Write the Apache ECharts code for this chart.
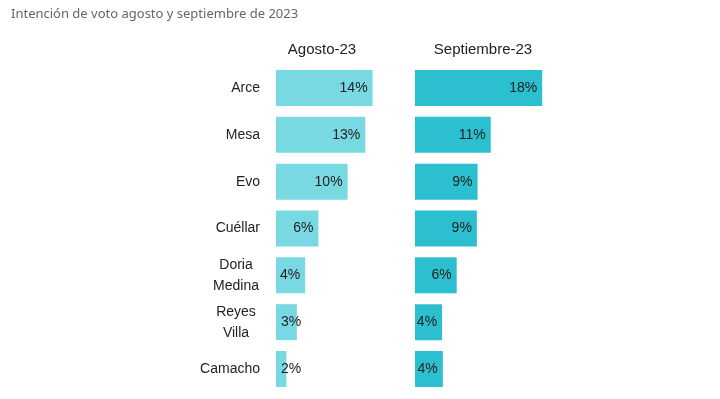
<!DOCTYPE html>
<html>
<head>
<meta charset="utf-8">
<script src="https://cdn.jsdelivr.net/npm/echarts@6/dist/echarts.min.js"></script>
<style>
  html, body { margin: 0; padding: 0; background: #fff; }
  #chart { width: 720px; height: 399px; }
</style>
</head>
<body>
<div id="chart"></div>
<script>
const candidates = ['Arce', 'Mesa', 'Evo', 'Cuéllar', 'Doria\nMedina', 'Reyes\nVilla', 'Camacho'];
const agosto = [13.9, 12.85, 10.3, 6.1, 4.2, 3.0, 1.5];
const septiembre = [18.3, 10.9, 9.0, 8.9, 6.0, 3.9, 4.0];
const panelTitles = ['Agosto-23', 'Septiembre-23'];

const font = '"Liberation Sans", Arial, sans-serif';

// short bars get the label from the left, like the original
function withLabels(values) {
  return values.map(v => ({
    value: v,
    label: { position: v < 3.5 ? 'insideLeft' : 'insideRight' }
  }));
}

const yAxisBase = {
  type: 'category',
  data: candidates,
  inverse: true,
  axisLine: { show: false },
  axisTick: { show: false },
  splitLine: { show: false }
};

const chart = echarts.init(document.getElementById('chart'));
chart.setOption({
  animation: false,
  backgroundColor: '#fff',
  title: {
    text: 'Intención de voto agosto y septiembre de 2023',
    left: 6,
    top: 3,
    textStyle: { fontFamily: '"Noto Sans", sans-serif', fontSize: 13, fontWeight: 'normal', color: '#666' }
  },
  graphic: [
    { type: 'text', x: 322, y: 50, style: { text: panelTitles[0], font: '15px ' + font, fill: '#222', textAlign: 'center', textVerticalAlign: 'middle' } },
    { type: 'text', x: 483, y: 50, style: { text: panelTitles[1], font: '15px ' + font, fill: '#222', textAlign: 'center', textVerticalAlign: 'middle' } }
  ],
  grid: [
    { left: 276, top: 64.6, width: 139, height: 327.8 },
    { left: 415, top: 64.6, width: 139, height: 327.8 }
  ],
  xAxis: [
    { gridIndex: 0, type: 'value', min: 0, max: 20, show: false },
    { gridIndex: 1, type: 'value', min: 0, max: 20, show: false }
  ],
  yAxis: [
    Object.assign({}, yAxisBase, {
      gridIndex: 0,
      axisLabel: {
        margin: 16,
        color: '#222',
        fontFamily: font,
        fontSize: 14,
        lineHeight: 21,
        formatter: v => v.indexOf('\n') >= 0 ? v.split('\n').map(l => '{c|' + l + '}').join('\n') : v,
        rich: { c: { width: 48, align: 'center', color: '#222', fontFamily: font, fontSize: 14, lineHeight: 21 } }
      }
    }),
    Object.assign({}, yAxisBase, { gridIndex: 1, axisLabel: { show: false } })
  ],
  series: [
    {
      type: 'bar',
      xAxisIndex: 0,
      yAxisIndex: 0,
      barWidth: 36,
      data: withLabels(agosto),
      itemStyle: { color: '#79d9e3' },
      label: {
        show: true,
        distance: 5,
        color: '#222',
        fontFamily: font,
        fontSize: 14,
        formatter: p => Math.round(p.value) + '%'
      }
    },
    {
      type: 'bar',
      xAxisIndex: 1,
      yAxisIndex: 1,
      barWidth: 36,
      data: withLabels(septiembre),
      itemStyle: { color: '#2bbfcf' },
      label: {
        show: true,
        distance: 5,
        color: '#222',
        fontFamily: font,
        fontSize: 14,
        formatter: p => Math.round(p.value) + '%'
      }
    }
  ]
});
</script>
</body>
</html>
